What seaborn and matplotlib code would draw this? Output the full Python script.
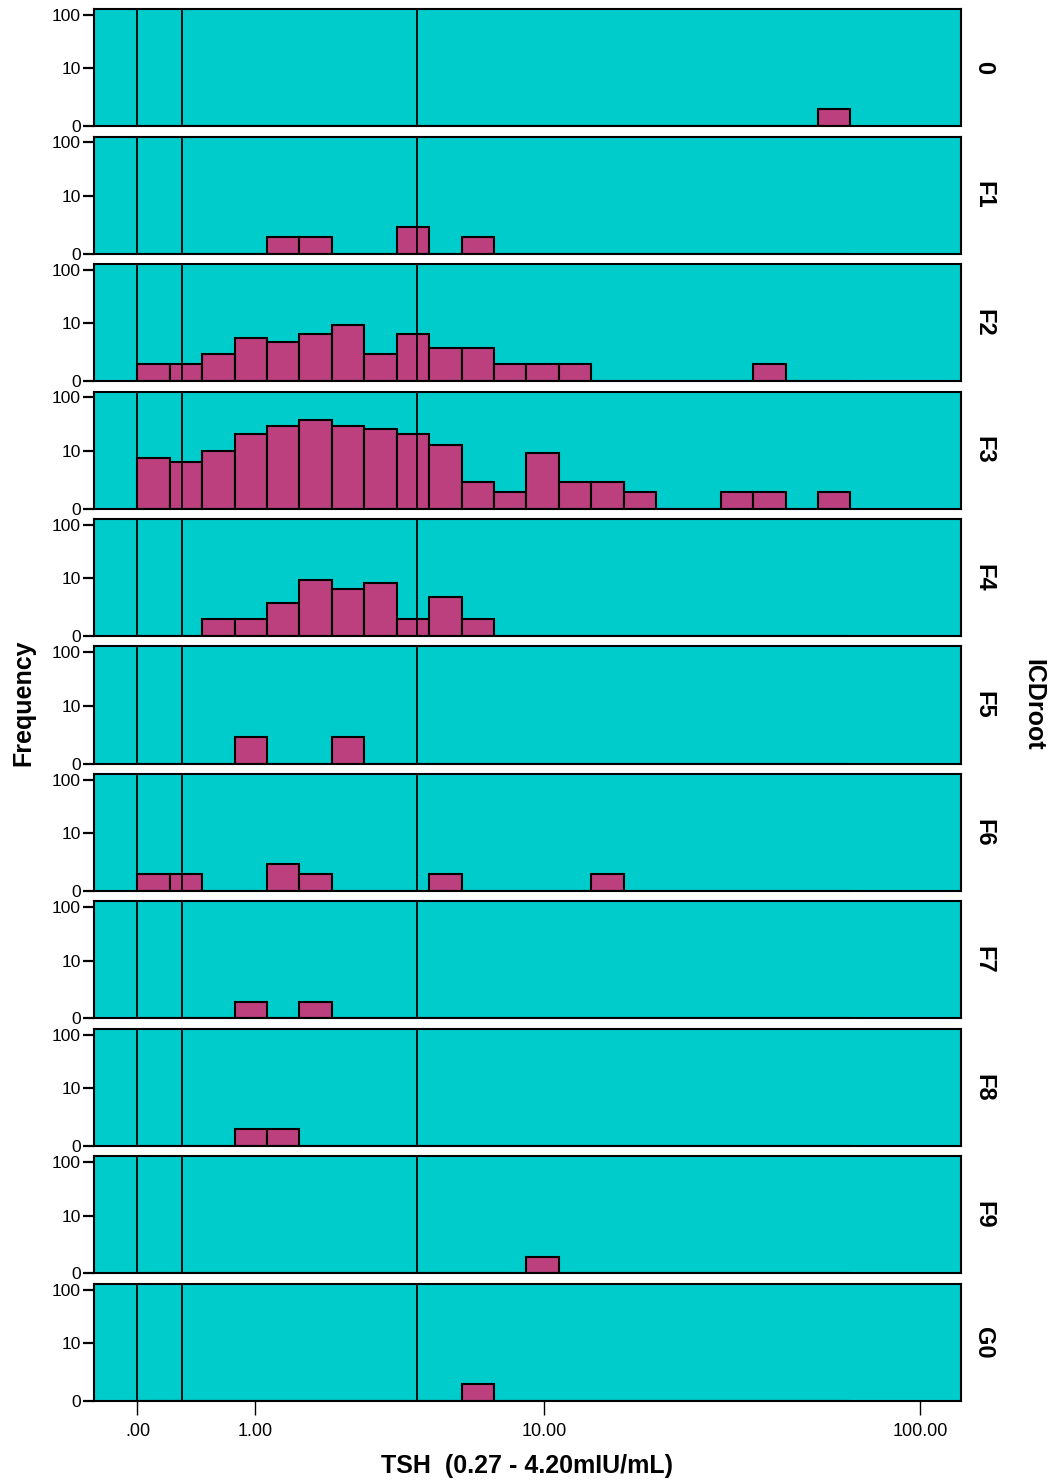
import numpy as np
import pandas as pd
import matplotlib
matplotlib.use("Agg")
import matplotlib.pyplot as plt
import seaborn as sns

# ---- data: counts per TSH bin (bins are equal width on a log10(x+1) scale) ----
groups = ["0", "F1", "F2", "F3", "F4", "F5", "F6", "F7", "F8", "F9", "G0"]

#            bin: 0  1  2   3   4   5   6   7   8   9  10 11 12 13 14 15 16 17 18 19 20 21
counts_0  = [0, 0, 0,  0,  0,  0,  0,  0,  0,  0,  0, 0, 0, 0, 0, 0, 0, 0, 0, 0, 0, 1]
counts_F1 = [0, 0, 0,  0,  1,  1,  0,  0,  2,  0,  1, 0, 0, 0, 0, 0, 0, 0, 0, 0, 0, 0]
counts_F2 = [1, 1, 2,  5,  4,  6,  9,  2,  6,  3,  3, 1, 1, 1, 0, 0, 0, 0, 0, 1, 0, 0]
counts_F3 = [7, 6, 10, 21, 29, 38, 29, 26, 21, 13, 2, 1, 9, 2, 2, 1, 0, 0, 1, 1, 0, 1]
counts_F4 = [0, 0, 1,  1,  3,  9,  6,  8,  1,  4,  1, 0, 0, 0, 0, 0, 0, 0, 0, 0, 0, 0]
counts_F5 = [0, 0, 0,  2,  0,  0,  2,  0,  0,  0,  0, 0, 0, 0, 0, 0, 0, 0, 0, 0, 0, 0]
counts_F6 = [1, 1, 0,  0,  2,  1,  0,  0,  0,  1,  0, 0, 0, 0, 1, 0, 0, 0, 0, 0, 0, 0]
counts_F7 = [0, 0, 0,  1,  0,  1,  0,  0,  0,  0,  0, 0, 0, 0, 0, 0, 0, 0, 0, 0, 0, 0]
counts_F8 = [0, 0, 0,  1,  1,  0,  0,  0,  0,  0,  0, 0, 0, 0, 0, 0, 0, 0, 0, 0, 0, 0]
counts_F9 = [0, 0, 0,  0,  0,  0,  0,  0,  0,  0,  0, 0, 1, 0, 0, 0, 0, 0, 0, 0, 0, 0]
counts_G0 = [0, 0, 0,  0,  0,  0,  0,  0,  0,  0,  1, 0, 0, 0, 0, 0, 0, 0, 0, 0, 0, 0]

all_counts = [counts_0, counts_F1, counts_F2, counts_F3, counts_F4, counts_F5,
              counts_F6, counts_F7, counts_F8, counts_F9, counts_G0]

bin_width = 0.083                 # in log10(TSH + 1) units
ref_lines = [0.0, 0.30, 4.20]     # reference range markers
x_ticks = [0, 1, 10, 100]
x_ticklabels = [".00", "1.00", "10.00", "100.00"]
y_ticks = [0, 10, 100]
y_ticklabels = ["0", "10", "100"]

# ---- style ----
sns.set_theme(style="ticks")
plt.rcParams["font.family"] = ["Liberation Sans", "DejaVu Sans"]
plt.rcParams["text.color"] = "black"

BG = "#00CCCC"
BAR = "#BD407E"


def safe_log(v):
    """log10(v + 1) transform used for both axes."""
    return np.log10(np.clip(np.asarray(v, dtype=float) + 1.0, 1e-9, None))


def safe_exp(v):
    return 10.0 ** np.asarray(v, dtype=float) - 1.0


n_bins = len(counts_0)
# TSH axis is drawn in log10(TSH + 1) units
edges_t = [bin_width * k for k in range(n_bins + 1)]
centers_t = [bin_width * (k + 0.5) for k in range(n_bins)]

fig = plt.figure(figsize=(10.5, 14.81), dpi=100)
gs = fig.add_gridspec(len(groups), 1, left=0.0891, right=0.9152,
                      top=0.99392, bottom=0.05402, hspace=0.0897)

axes = []
for i, (grp, cnt) in enumerate(zip(groups, all_counts)):
    ax = fig.add_subplot(gs[i, 0], sharex=axes[0] if axes else None)
    axes.append(ax)
    ax.set_yscale("function", functions=(safe_log, safe_exp))
    ax.set_facecolor(BG)

    df = pd.DataFrame({"TSH_t": centers_t, "n": np.asarray(cnt, dtype=float)})
    sns.histplot(data=df, x="TSH_t", weights="n", bins=edges_t, ax=ax,
                 color=BAR, alpha=1.0, edgecolor="black", linewidth=1.5,
                 zorder=2)

    for v in ref_lines:
        ax.axvline(safe_log(v), color="black", linewidth=1.3, zorder=3)

    ax.set_xlim(-0.1124, 2.109)
    ax.set_ylim(0, 126)
    ax.set_yticks(y_ticks)
    ax.set_yticklabels(y_ticklabels)
    ax.yaxis.set_minor_locator(matplotlib.ticker.NullLocator())
    ax.tick_params(axis="y", direction="out", length=8, width=1.6,
                   labelsize=12.5, pad=1, colors="black")
    ax.set_xlabel("")
    ax.set_ylabel("")
    for sp in ax.spines.values():
        sp.set_visible(True)
        sp.set_color("black")
        sp.set_linewidth(1.5)

    # facet label on the right
    ax.text(1.026, 0.5, grp, transform=ax.transAxes, rotation=270,
            ha="center", va="center", fontsize=17, fontweight="bold",
            color="black")

    if i < len(groups) - 1:
        ax.tick_params(axis="x", bottom=False, labelbottom=False)

bottom_ax = axes[-1]
bottom_ax.set_xticks(safe_log(x_ticks))
bottom_ax.set_xticklabels(x_ticklabels)
bottom_ax.tick_params(axis="x", bottom=True, labelbottom=True, direction="out",
                      length=10, width=1.0, labelsize=13, pad=6, colors="black")

fig.text(527 / 1050, 1 - 1466 / 1481, "TSH  (0.27 - 4.20mIU/mL)",
         ha="center", va="center", fontsize=18, fontweight="bold",
         color="black")
fig.text(23 / 1050, 1 - 703 / 1481, "Frequency", rotation=90,
         ha="center", va="center", fontsize=18, fontweight="bold",
         color="black")
fig.text(1033 / 1050, 1 - 705 / 1481, "ICDroot", rotation=270,
         ha="center", va="center", fontsize=18, fontweight="bold",
         color="black")

fig.savefig("out.png", dpi=100, facecolor="white")
